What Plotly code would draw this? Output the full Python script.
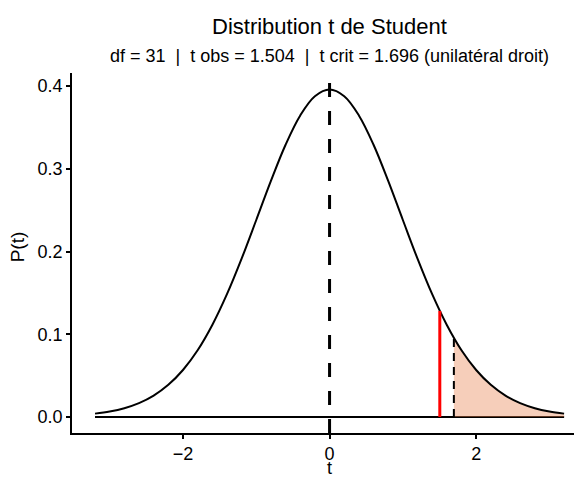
import plotly.graph_objects as go

# Values
t_vals = [-3.2, -3.0, -2.8, -2.6, -2.4, -2.2, -2.0, -1.8, -1.6, -1.4, -1.2, -1.0,
          -0.8, -0.6, -0.4, -0.2, 0.0, 0.2, 0.4, 0.6, 0.8, 1.0, 1.2, 1.4, 1.6,
          1.8, 2.0, 2.2, 2.4, 2.6, 2.8, 3.0, 3.2]
dens_vals = [0.0041, 0.0067, 0.0107, 0.0168, 0.0259, 0.0389, 0.0568, 0.0806,
             0.1112, 0.1484, 0.1914, 0.2381, 0.2853, 0.3290, 0.3644, 0.3876,
             0.3957, 0.3876, 0.3644, 0.3290, 0.2853, 0.2381, 0.1914, 0.1484,
             0.1112, 0.0806, 0.0568, 0.0389, 0.0259, 0.0168, 0.0107, 0.0067,
             0.0041]
t_obs = 1.504
dens_obs = 0.1282
t_crit = 1.696
dens_crit = 0.0957
center_t = 0.0
x_ticks = [-2, 0, 2]
y_ticks = [0.0, 0.1, 0.2, 0.3, 0.4]

title_text = "Distribution t de Student"
subtitle_text = "df = 31  |  t obs = 1.504  |  t crit = 1.696 (unilatéral droit)"

FONT = "Liberation Sans, Arial, Helvetica, sans-serif"

fill_x = [t_crit] + [t for t in t_vals if t > t_crit]
fill_y = [dens_crit] + [d for t, d in zip(t_vals, dens_vals) if t > t_crit]

fig = go.Figure()
# baseline at y = 0
fig.add_trace(go.Scatter(x=[t_vals[0], t_vals[-1]], y=[0, 0], mode="lines",
                         line=dict(color="black", width=2), hoverinfo="skip"))
# rejection area
fig.add_trace(go.Scatter(x=fill_x, y=fill_y, mode="lines", fill="tozeroy",
                         fillcolor="rgba(233,133,83,0.4)",
                         line=dict(width=0, shape="spline"), hoverinfo="skip"))
# density curve
fig.add_trace(go.Scatter(x=t_vals, y=dens_vals, mode="lines",
                         line=dict(color="black", width=2, shape="spline")))
# critical value
fig.add_trace(go.Scatter(x=[t_crit, t_crit], y=[0, dens_crit], mode="lines",
                         line=dict(color="black", width=2, dash="8px,6px")))
# observed value
fig.add_trace(go.Scatter(x=[t_obs, t_obs], y=[0, dens_obs], mode="lines",
                         line=dict(color="#FF0000", width=3)))

fig.add_shape(type="line", xref="x", yref="paper", x0=center_t, x1=center_t,
              y0=0, y1=1, line=dict(color="black", width=3, dash="14px,14px"))

fig.add_annotation(text=title_text, xref="x", yref="paper", x=0, y=1.129,
                   xanchor="center", yanchor="middle", showarrow=False,
                   font=dict(family=FONT, size=22, color="black"))
fig.add_annotation(text=subtitle_text, xref="x", yref="paper", x=0, y=1.046,
                   xanchor="center", yanchor="middle", showarrow=False,
                   font=dict(family=FONT, size=18, color="black"))
fig.add_annotation(text="P(t)", xref="paper", yref="paper", x=-0.1086, y=0.517,
                   xanchor="center", yanchor="middle", textangle=-90,
                   showarrow=False, font=dict(family=FONT, size=19, color="black"))
fig.add_annotation(text="t", xref="x", yref="paper", x=0, y=-0.1278,
                   xanchor="center", yanchor="bottom", showarrow=False,
                   borderpad=0,
                   font=dict(family=FONT, size=18, color="black"))

axis_common = dict(showline=True, linecolor="black", linewidth=1.5,
                   ticks="outside", ticklen=4, tickwidth=1.5, tickcolor="black",
                   showgrid=False, zeroline=False,
                   tickfont=dict(family=FONT, size=18, color="black"))
fig.update_xaxes(range=[-3.514, 3.335], tickvals=x_ticks,
                 ticktext=["\u22122", "0", "2"], **axis_common)
fig.update_yaxes(range=[-0.0193, 0.4157], tickvals=y_ticks,
                 tickformat=".1f", **axis_common)

fig.update_layout(width=574, height=479, showlegend=False,
                  plot_bgcolor="white", paper_bgcolor="white",
                  margin=dict(l=72, r=0, t=73, b=46),
                  font=dict(family=FONT, color="black"))

fig.write_html("out.html", config={"displayModeBar": False},
               post_script="document.body.style.margin='0';"
                           "document.body.style.overflow='hidden';")
